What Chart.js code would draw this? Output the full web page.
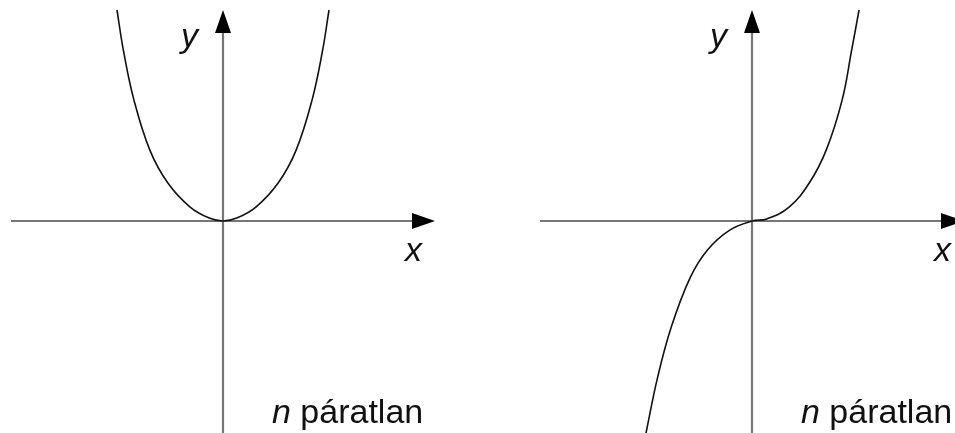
<!DOCTYPE html>
<html>
<head>
<meta charset="utf-8">
<script src="https://cdn.jsdelivr.net/npm/chart.js@4/dist/chart.umd.min.js"></script>
<style>
  html, body { margin: 0; padding: 0; background: #fff; overflow: hidden; }
  .panel { position: absolute; top: 0; }
</style>
</head>
<body>
<canvas id="leftChart" class="panel" width="529" height="433" style="left:0"></canvas>
<canvas id="rightChart" class="panel" width="529" height="433" style="left:529px"></canvas>
<script>
// points (units: 1 = curve half-width / height at the top)
const leftX = [-1.0, -0.94, -0.84, -0.69, -0.52, -0.31, -0.13, 0, 0.13, 0.31, 0.52, 0.69, 0.84, 0.94, 1.0];
const leftY = [1.0, 0.81, 0.573, 0.336, 0.18, 0.066, 0.014, 0, 0.014, 0.066, 0.18, 0.336, 0.573, 0.81, 1.0];

const rightX = [-1.0, -0.89, -0.76, -0.58, -0.42, -0.21, 0, 0.14, 0.35, 0.54, 0.70, 0.85, 0.94, 1.01];
const rightY = [-1.005, -0.74, -0.50, -0.265, -0.137, -0.043, 0, 0.01, 0.066, 0.18, 0.336, 0.573, 0.81, 1.0];

const panelLabel = 'páratlan';

const FONT = 'Liberation Sans, Arial, sans-serif';

function toPoints(xs, ys) {
  return xs.map((x, i) => ({ x: x, y: ys[i] }));
}

// draws the arrowed axes and the x / y / "n páratlan" labels
const axesPlugin = {
  id: 'arrowAxes',
  beforeDatasetsDraw(chart) {
    const ctx = chart.ctx;
    const xs = chart.scales.x;
    const ys = chart.scales.y;
    const ox = xs.getPixelForValue(0);
    const oy = ys.getPixelForValue(0);
    const xEnd = xs.getPixelForValue(2.0);
    const xStart = xs.getPixelForValue(-2.0);
    const yTop = ys.getPixelForValue(1.0);
    const yBottom = chart.height;
    const head = 23, half = 8;

    ctx.save();
    ctx.strokeStyle = '#777';
    ctx.lineWidth = 2.2;
    ctx.beginPath();
    ctx.moveTo(xStart, oy);
    ctx.lineTo(xEnd - head + 2, oy);
    ctx.moveTo(ox, yBottom);
    ctx.lineTo(ox, yTop + head - 2);
    ctx.stroke();

    ctx.fillStyle = '#000';
    ctx.beginPath();
    ctx.moveTo(xEnd, oy);
    ctx.lineTo(xEnd - head, oy - half);
    ctx.lineTo(xEnd - head, oy + half);
    ctx.closePath();
    ctx.fill();
    ctx.beginPath();
    ctx.moveTo(ox, yTop);
    ctx.lineTo(ox - half, yTop + head);
    ctx.lineTo(ox + half, yTop + head);
    ctx.closePath();
    ctx.fill();

    ctx.fillStyle = '#111';
    ctx.textBaseline = 'alphabetic';
    ctx.textAlign = 'left';
    ctx.font = 'italic 34px ' + FONT;
    ctx.fillText('y', ox - 42, oy - 174);
    ctx.fillText('x', ox + 182, oy + 40);

    ctx.fillText('n', ox + 49, oy + 202);
    const nw = ctx.measureText('n ').width;
    ctx.font = '34px ' + FONT;
    ctx.fillText(panelLabel, ox + 49 + nw, oy + 202);
    ctx.restore();
  }
};

function makeChart(id, points) {
  const ctx = document.getElementById(id);
  return new Chart(ctx, {
    type: 'line',
    data: {
      datasets: [{
        data: points,
        borderColor: '#111',
        borderWidth: 1.6,
        pointRadius: 0,
        fill: false,
        tension: 0.4
      }]
    },
    options: {
      responsive: false,
      animation: false,
      events: [],
      layout: { padding: 0 },
      plugins: { legend: { display: false }, tooltip: { enabled: false } },
      scales: {
        x: { type: 'linear', display: false, min: -223 / 106, max: 306 / 106 },
        y: { type: 'linear', display: false, min: -212 / 211, max: 221 / 211 }
      }
    },
    plugins: [axesPlugin]
  });
}

makeChart('leftChart', toPoints(leftX, leftY));
makeChart('rightChart', toPoints(rightX, rightY));
</script>
</body>
</html>
